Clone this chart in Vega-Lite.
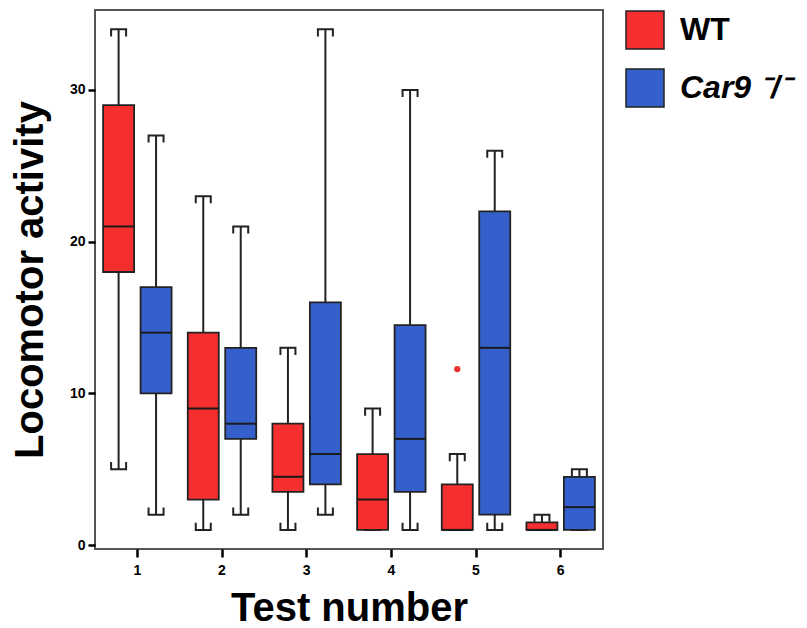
{
  "$schema": "https://vega.github.io/schema/vega-lite/v6.json",
  "width": 508,
  "height": 539,
  "autosize": {"type": "none"},
  "padding": {"left": 95, "top": 10, "right": 204, "bottom": 79},
  "background": "white",
  "config": {
    "font": "Liberation Sans",
    "view": {"stroke": "#555", "strokeWidth": 2}
  },
  "datasets": {
    "stats": [
      {"test": "1", "group": "WT", "min": 5, "q1": 18, "median": 21, "q3": 29, "max": 34},
      {"test": "1", "group": "Car9", "min": 2, "q1": 10, "median": 14, "q3": 17, "max": 27},
      {"test": "2", "group": "WT", "min": 1, "q1": 3, "median": 9, "q3": 14, "max": 23},
      {"test": "2", "group": "Car9", "min": 2, "q1": 7, "median": 8, "q3": 13, "max": 21},
      {"test": "3", "group": "WT", "min": 1, "q1": 3.5, "median": 4.5, "q3": 8, "max": 13},
      {"test": "3", "group": "Car9", "min": 2, "q1": 4, "median": 6, "q3": 16, "max": 34},
      {"test": "4", "group": "WT", "min": 1, "q1": 1, "median": 3, "q3": 6, "max": 9},
      {"test": "4", "group": "Car9", "min": 1, "q1": 3.5, "median": 7, "q3": 14.5, "max": 30},
      {"test": "5", "group": "WT", "min": 1, "q1": 1, "median": 1, "q3": 4, "max": 6},
      {"test": "5", "group": "Car9", "min": 1, "q1": 2, "median": 13, "q3": 22, "max": 26},
      {"test": "6", "group": "WT", "min": 1, "q1": 1, "median": 1, "q3": 1.5, "max": 2},
      {"test": "6", "group": "Car9", "min": 1, "q1": 1, "median": 2.5, "q3": 4.5, "max": 5}
    ],
    "outliers": [
      {"test": "5", "group": "WT", "value": 11.6}
    ]
  },
  "encoding": {
    "x": {
      "field": "test", "type": "ordinal",
      "scale": {"paddingInner": 0, "paddingOuter": 0},
      "axis": {
        "title": "Test number", "titleFontSize": 40, "titleFontWeight": "bold", "titleColor": "#000",
        "titlePadding": 11,
        "labelAngle": 0, "labelFontSize": 14, "labelFontWeight": "bold", "labelColor": "#000",
        "labelPadding": 6,
        "tickSize": 8, "tickWidth": 2.5, "tickColor": "#000",
        "domain": false, "grid": false
      }
    },
    "xOffset": {
      "field": "group", "type": "nominal",
      "scale": {"domain": ["WT", "Car9"], "paddingInner": 0, "paddingOuter": 0.13}
    }
  },
  "layer": [
    {
      "data": {"name": "stats"},
      "mark": {"type": "rule", "color": "#222", "strokeWidth": 2},
      "encoding": {
        "y": {
          "field": "min", "type": "quantitative",
          "scale": {"domain": [-0.26, 35.27], "nice": false, "zero": false},
          "axis": {
            "values": [0, 10, 20, 30],
            "title": "Locomotor activity", "titleFontSize": 40, "titleFontWeight": "bold", "titleColor": "#000",
            "titlePadding": 19,
            "labelFontSize": 14, "labelFontWeight": "bold", "labelColor": "#000", "labelPadding": 3,
            "tickSize": 7, "tickWidth": 2.5, "tickColor": "#000",
            "domain": false, "grid": false
          }
        },
        "y2": {"field": "max"}
      }
    },
    {
      "data": {"name": "stats"},
      "mark": {"type": "point", "shape": "M-1,0.95L-1,0L1,0L1,0.95", "filled": false, "stroke": "#222", "strokeWidth": 2, "size": 225, "opacity": 1},
      "encoding": {
        "y": {"field": "max", "type": "quantitative"}
      }
    },
    {
      "data": {"name": "stats"},
      "mark": {"type": "point", "shape": "M-1,-0.95L-1,0L1,0L1,-0.95", "filled": false, "stroke": "#222", "strokeWidth": 2, "size": 225, "opacity": 1},
      "encoding": {
        "y": {"field": "min", "type": "quantitative"}
      }
    },
    {
      "data": {"name": "stats"},
      "mark": {"type": "bar", "width": 31, "stroke": "#222", "strokeWidth": 1.8, "opacity": 1},
      "encoding": {
        "y": {"field": "q1", "type": "quantitative"},
        "y2": {"field": "q3"},
        "color": {
          "field": "group", "type": "nominal",
          "scale": {"domain": ["WT", "Car9"], "range": ["#F52F2F", "#3560CC"]},
          "legend": {
            "title": null, "orient": "right", "offset": 22, "padding": 0,
            "symbolType": "square", "symbolSize": 1444, "symbolStrokeColor": "#222", "symbolStrokeWidth": 1.5,
            "symbolOpacity": 1,
            "labelFontSize": 32, "labelFontWeight": "bold", "labelColor": "#000", "labelOffset": 15,
            "rowPadding": 14,
            "labelExpr": "datum.value === 'Car9' ? 'Car9 ⁻/⁻' : datum.label",
            "labelLimit": 300,
            "encode": {"labels": {"update": {"fontStyle": {"signal": "datum.value === 'Car9' ? 'italic' : 'normal'"}}}}
          }
        }
      }
    },
    {
      "data": {"name": "stats"},
      "mark": {"type": "tick", "size": 31, "thickness": 2, "color": "#1a1a1a", "opacity": 1},
      "encoding": {
        "y": {"field": "median", "type": "quantitative"}
      }
    },
    {
      "data": {"name": "outliers"},
      "mark": {"type": "point", "shape": "circle", "filled": true, "color": "#E8302C", "size": 40, "opacity": 1},
      "encoding": {
        "y": {"field": "value", "type": "quantitative"}
      }
    }
  ]
}
